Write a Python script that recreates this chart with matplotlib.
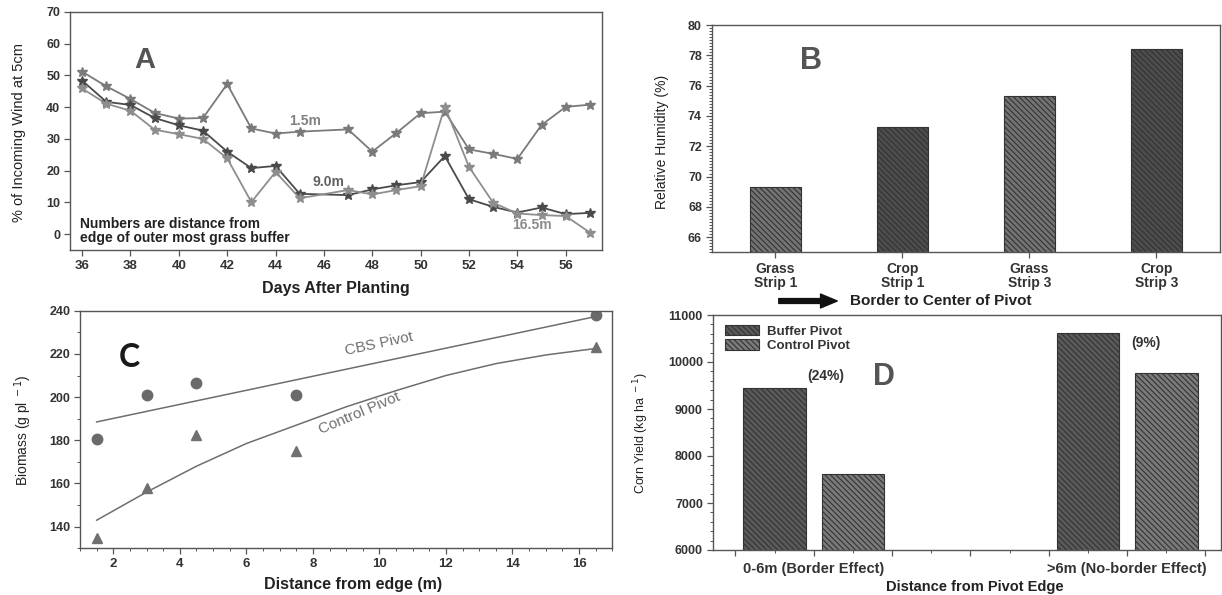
import matplotlib
matplotlib.use("Agg")
import matplotlib.pyplot as plt
from matplotlib.ticker import MultipleLocator, FixedLocator
from matplotlib.patches import FancyArrowPatch

plt.rcParams['font.family'] = ['Liberation Sans', 'DejaVu Sans']
plt.rcParams['hatch.linewidth'] = 0.8

# ---------------- Panel A data ----------------
days_a = [36, 37, 38, 39, 40, 41, 42, 43, 44, 45, 47, 48, 49, 50, 51, 52, 53, 54, 55, 56, 57]
wind_15 = [51.2, 46.6, 42.6, 38.2, 36.4, 36.6, 47.3, 33.3, 31.7, 32.3, 33.0, 26.0, 31.9, 38.1, 38.6,
           26.7, 25.3, 23.7, 34.4, 40.1, 40.8]
wind_90 = [48.4, 41.7, 40.7, 36.6, 34.3, 32.6, 26.0, 20.8, 21.5, 12.7, 12.3, 14.1, 15.4, 16.4, 24.6,
           11.0, 8.6, 6.8, 8.4, 6.3, 6.7]
wind_165 = [45.9, 41.1, 38.9, 32.9, 31.5, 30.0, 23.9, 10.1, 19.6, 11.3, 13.9, 12.5, 13.9, 15.1, 40.2,
            21.2, 9.9, 6.5, 6.0, 5.7, 0.5]
series_a_labels = ["1.5m", "9.0m", "16.5m"]

# ---------------- Panel B data ----------------
strips_b = ["Grass\nStrip 1", "Crop\nStrip 1", "Grass\nStrip 3", "Crop\nStrip 3"]
humidity_b = [69.3, 73.3, 75.3, 78.4]

# ---------------- Panel C data ----------------
dist_c = [1.5, 3.0, 4.5, 7.5, 16.5]
biomass_cbs = [180.5, 201.0, 206.5, 201.0, 238.0]
biomass_ctrl = [135.0, 158.0, 182.5, 175.0, 223.0]
cbs_fit_x = [1.5, 16.5]
cbs_fit_y = [188.5, 237.3]
ctrl_fit_x = [1.5, 3, 4.5, 6, 7.5, 9, 10.5, 12, 13.5, 15, 16.5]
ctrl_fit_y = [143.0, 156.0, 168.0, 178.5, 187.0, 195.5, 203.0, 210.0, 215.5, 219.5, 222.5]

# ---------------- Panel D data ----------------
groups_d = ["0-6m (Border Effect)", ">6m (No-border Effect)"]
yield_buffer = [9440, 10610]
yield_control = [7610, 9760]
pct_labels_d = ["(24%)", "(9%)"]

SPINE = '#555555'
HATCH = '\\' * 6
W, H = 1222, 595
fig = plt.figure(figsize=(W / 100, H / 100), dpi=100)


def frac(l, t, r, b):
    return [l / W, 1 - b / H, (r - l) / W, (b - t) / H]


def style(ax, lsize_x=9, lsize_y=8):
    for s in ax.spines.values():
        s.set_color(SPINE)
        s.set_linewidth(1.0)
    ax.tick_params(direction='out', length=4, width=0.9, color=SPINE, pad=3)
    ax.tick_params(which='minor', direction='out', length=2.5, width=0.7, color=SPINE)
    for lab in ax.get_xticklabels():
        lab.set_fontweight('bold'); lab.set_fontsize(lsize_x); lab.set_color('#333333')
    for lab in ax.get_yticklabels():
        lab.set_fontweight('bold'); lab.set_fontsize(lsize_y); lab.set_color('#333333')


# ================= Panel A =================
axA = fig.add_axes(frac(70, 12, 602, 250))
axA.plot(days_a, wind_15, '-', color='#7a7a7a', lw=1.3, marker='*', ms=7, mec='#7a7a7a', mfc='#7a7a7a')
axA.plot(days_a, wind_90, '-', color='#4a4a4a', lw=1.3, marker='*', ms=7, mec='#4a4a4a', mfc='#4a4a4a')
axA.plot(days_a, wind_165, '-', color='#8e8e8e', lw=1.3, marker='*', ms=7, mec='#8e8e8e', mfc='#8e8e8e')
axA.set_xlim(35.5, 57.5)
axA.set_ylim(-5, 70)
axA.xaxis.set_major_locator(MultipleLocator(2))
axA.yaxis.set_major_locator(MultipleLocator(10))
style(axA, 9.5, 9)
axA.text(45.2, 35.8, series_a_labels[0], color='#808080', fontsize=10, fontweight='bold', ha='center', va='center')
axA.text(46.2, 16.3, series_a_labels[1], color='#606060', fontsize=10, fontweight='bold', ha='center', va='center')
axA.text(54.6, 3.0, series_a_labels[2], color='#8a8a8a', fontsize=10, fontweight='bold', ha='center', va='center')
axA.text(38.6, 55, "A", color='#555555', fontsize=21, fontweight='bold', ha='center', va='center')
axA.text(35.93, 1.0, "Numbers are distance from\nedge of outer most grass buffer", fontsize=10,
         fontweight='bold', color='#222222', ha='left', va='center', linespacing=1.05)
fig.text(336 / W, 1 - 288 / H, "Days After Planting", fontsize=11.5, fontweight='bold', color='#222222',
         ha='center', va='center')
fig.text(19 / W, 1 - 133 / H, "% of Incoming Wind at 5cm", fontsize=10.5, rotation=90, color='#222222',
         ha='center', va='center')

# ================= Panel B =================
axB = fig.add_axes(frac(711.7, 25, 1220, 252.3))
xb = list(range(len(strips_b)))
colors_b = ['#737373', '#4d4d4d', '#737373', '#4d4d4d']
axB.bar(xb, humidity_b, width=0.4, color=colors_b, edgecolor='#333333', linewidth=0.8, hatch=HATCH)
axB.set_xlim(-0.5, 3.5)
axB.set_ylim(65, 80)
axB.set_xticks(xb)
axB.set_xticklabels(strips_b)
axB.yaxis.set_major_locator(MultipleLocator(2))
axB.yaxis.set_minor_locator(MultipleLocator(0.2))
style(axB, 10, 9)
for lab in axB.get_xticklabels():
    lab.set_linespacing(1.0)
axB.text(0.28, 77.6, "B", color='#555555', fontsize=22, fontweight='bold', ha='center', va='center')
fig.text(662 / W, 1 - 142 / H, "Relative Humidity (%)", fontsize=10, rotation=90, color='#222222',
         ha='center', va='center')
arr = FancyArrowPatch((776 / W, 1 - 301 / H), (840 / W, 1 - 301 / H), transform=fig.transFigure,
                      arrowstyle='simple,head_length=1.2,head_width=1.0,tail_width=0.35',
                      mutation_scale=10, color='#111111')
fig.add_artist(arr)
fig.text(850 / W, 1 - 301 / H, "Border to Center of Pivot", fontsize=11, fontweight='bold', color='#222222',
         ha='left', va='center')

# ================= Panel C =================
axC = fig.add_axes(frac(80, 310.7, 612.3, 548.3))
axC.plot(cbs_fit_x, cbs_fit_y, '-', color='#6e6e6e', lw=1.1)
axC.plot(ctrl_fit_x, ctrl_fit_y, '-', color='#6e6e6e', lw=1.1)
axC.plot(dist_c, biomass_cbs, 'o', color='#6a6a6a', ms=7.5, mec='#6a6a6a')
axC.plot(dist_c, biomass_ctrl, '^', color='#707070', ms=7.5, mec='#707070')
axC.set_xlim(1, 17)
axC.set_ylim(130, 240)
axC.xaxis.set_major_locator(MultipleLocator(2))
axC.xaxis.set_minor_locator(MultipleLocator(0.5))
axC.yaxis.set_major_locator(MultipleLocator(20))
axC.yaxis.set_minor_locator(MultipleLocator(10))
style(axC, 9.5, 9)
axC.text(10.0, 224.5, "CBS Pivot", color='#707070', fontsize=11, rotation=12, ha='center', va='center',
         rotation_mode='anchor')
axC.text(9.4, 192.5, "Control Pivot", color='#707070', fontsize=11, rotation=23, ha='center', va='center',
         rotation_mode='anchor')
axC.text(2.48, 218.5, "C", color='#1a1a1a', fontsize=23, fontweight='bold', ha='center', va='center',
         family=['Lato', 'DejaVu Sans'])
fig.text(353 / W, 1 - 585 / H, "Distance from edge (m)", fontsize=11.5, fontweight='bold', color='#222222',
         ha='center', va='center')
fig.text(23 / W, 1 - 430 / H, r"Biomass (g pl$^{\ -1}$)", fontsize=10, rotation=90, color='#222222',
         ha='center', va='center')

# ================= Panel D =================
axD = fig.add_axes(frac(712.7, 315, 1221, 550))
pos_d = [1, 5]
axD.bar([p - 0.5 for p in pos_d], yield_buffer, width=0.8, color='#5a5a5a', edgecolor='#333333',
        linewidth=0.8, hatch=HATCH, label='Buffer Pivot')
axD.bar([p + 0.5 for p in pos_d], yield_control, width=0.8, color='#7a7a7a', edgecolor='#333333',
        linewidth=0.8, hatch=HATCH, label='Control Pivot')
axD.set_xlim(-0.29, 6.2)
axD.set_ylim(6000, 11000)
axD.xaxis.set_major_locator(FixedLocator([0, 1, 2, 3, 4, 5, 6]))
axD.xaxis.set_minor_locator(MultipleLocator(0.5))
axD.set_xticklabels(["", groups_d[0], "", "", "", groups_d[1], ""])
axD.yaxis.set_major_locator(MultipleLocator(1000))
axD.yaxis.set_minor_locator(MultipleLocator(200))
style(axD, 10.5, 9)
axD.tick_params(axis='x', pad=5)
axD.text(1.15, 9700, pct_labels_d[0], fontsize=10, fontweight='bold', color='#333333', ha='center', va='center')
axD.text(5.24, 10400, pct_labels_d[1], fontsize=10, fontweight='bold', color='#333333', ha='center', va='center')
axD.text(1.9, 9680, "D", color='#555555', fontsize=22, fontweight='bold', ha='center', va='center')
leg = axD.legend(loc='upper left', bbox_to_anchor=(0.0, 1.01), frameon=False,
                 prop={'weight': 'bold', 'size': 9.5}, handlelength=2.6, handleheight=0.9,
                 labelspacing=0.1, handletextpad=0.6)
for t in leg.get_texts():
    t.set_color('#333333')
fig.text(975 / W, 1 - 587 / H, "Distance from Pivot Edge", fontsize=10.5, fontweight='bold', color='#222222',
         ha='center', va='center')
fig.text(641 / W, 1 - 433 / H, r"Corn Yield (kg ha$^{\ -1}$)", fontsize=9, rotation=90, color='#222222',
         ha='center', va='center')

fig.savefig("out.png", dpi=100)
